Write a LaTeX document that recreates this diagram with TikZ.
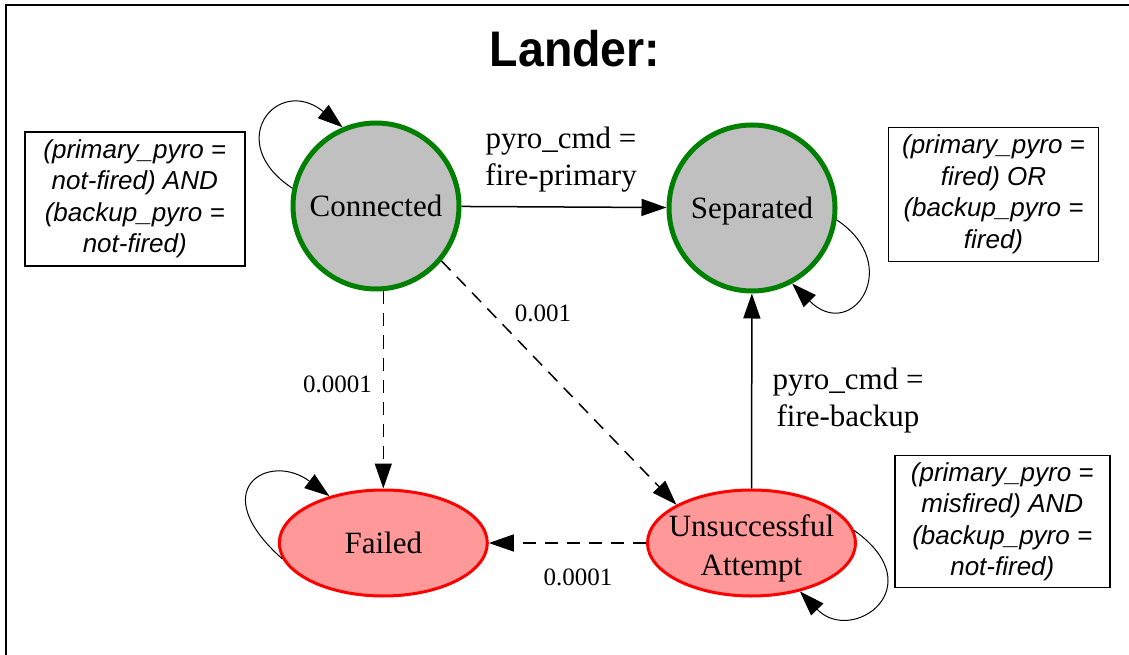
\documentclass[tikz,border=0pt]{standalone}
\usepackage{fontspec}
\setmainfont{Liberation Serif}
\setsansfont{Liberation Sans}
\usetikzlibrary{shapes.geometric,arrows.meta}
\definecolor{stgreen}{RGB}{0,128,0}
\definecolor{stgray}{RGB}{192,192,192}
\definecolor{stpink}{RGB}{255,153,153}
\definecolor{stred}{RGB}{255,0,0}
\begin{document}
\begin{tikzpicture}[x=1pt,y=1pt,
  okstate/.style={circle,draw=stgreen,fill=stgray,line width=5pt,minimum size=166pt,inner sep=0pt,
    text height=21pt,text depth=0pt,font=\fontsize{31}{37}\selectfont},
  badstate/.style={ellipse,draw=stred,fill=stpink,line width=3pt,minimum width=208pt,minimum height=106pt,inner sep=0pt},
  statetext/.style={align=center,inner sep=0pt,font=\fontsize{31}{39}\selectfont},
  note/.style={draw,line width=1.5pt,inner sep=0pt,align=center,font=\sffamily\itshape\fontsize{26}{31.5}\selectfont},
  edge/.style={line width=1.5pt,-{Triangle[length=25pt,width=17pt]}},
  dashededge/.style={edge,dash pattern=on 13pt off 9pt},
  loopedge/.style={line width=1pt,-{Triangle[length=25pt,width=17pt]}},
  elabel/.style={align=center,inner sep=0pt,font=\fontsize{31}{37}\selectfont},
  plabel/.style={inner sep=0pt,font=\fontsize{25}{30}\selectfont}]
\useasboundingbox (0,0) rectangle (1129,654);
% frame
\draw[line width=2pt] (6,-10) -- (6,649) -- (1140,649);
% title
\node[font=\sffamily\bfseries\fontsize{50}{60}\selectfont,xscale=0.93,inner sep=0pt] (title) at (575,605.5) {Lander:};
% states
\node[okstate] (conn) at (376,448) {Connected};
\node[okstate] (sep) at (752,446) {Separated};
\node[badstate] (fail) at (383.3,111) {};
\node[statetext] (failtxt) at (fail) {Failed};
\node[badstate] (uns) at (751.5,111) {};
\node[statetext] (unstxt) at (751.5,106) {Unsuccessful\\Attempt};
% notes
\node[note,minimum width=220pt,minimum height=134pt] (noteconn) at (134.8,455.2)
  {(primary\_pyro =\\not-fired) AND\\(backup\_pyro =\\not-fired)};
\node[note,minimum width=210pt,minimum height=134pt] (notesep) at (993.5,459.5)
  {(primary\_pyro =\\fired) OR\\(backup\_pyro =\\fired)};
\node[note,minimum width=215pt,minimum height=132pt] (noteuns) at (1002.3,132.3)
  {(primary\_pyro =\\misfired) AND\\(backup\_pyro =\\not-fired)};
% transitions
\draw[edge] (conn) -- (sep);
\draw[dashededge] (fail.north |- conn.south) -- (fail.north);
\draw[dashededge] (conn.-40) -- (uns.153);
\draw[dashededge] (uns) -- (fail);
\draw[edge] (uns) -- (sep);
% self loops
\draw[loopedge] (conn.168) .. controls +(-70,46) and +(-65,53) .. (conn.113);
\draw[loopedge] (sep.-8.5) .. controls +(68,-45) and +(60,-60) .. (sep.-62.5);
\draw[loopedge] (fail.189.4) .. controls +(-79,70) and +(-60,45) .. (fail.139);
\draw[loopedge] (uns.7) .. controls +(80,-57) and +(52,-54) .. (uns.-45);
% labels
\node[elabel] (lblprim) at (561,494.2) {pyro\_cmd =\\fire-primary};
\node[elabel] (lblback) at (848,253.2) {pyro\_cmd =\\fire-backup};
\node[plabel] (lblcf) at (337.5,269.6) {0.0001};
\node[plabel] (lblcu) at (543,341) {0.001};
\node[plabel] (lbluf) at (578,77) {0.0001};
\end{tikzpicture}
\end{document}
